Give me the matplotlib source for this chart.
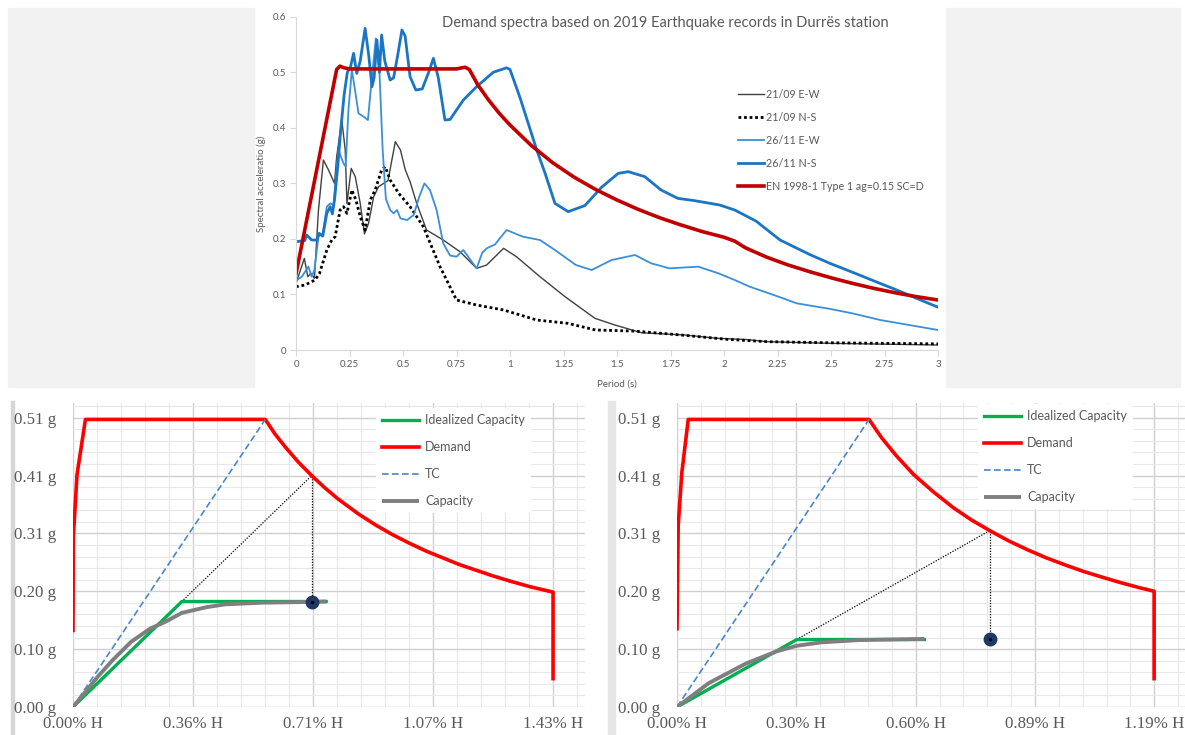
import matplotlib
matplotlib.use("Agg")
from matplotlib import pyplot as plt
from matplotlib.patches import Rectangle
from matplotlib.ticker import MultipleLocator, AutoMinorLocator, FuncFormatter

# ---- top chart: response spectra, period (s) vs Sa (g)
ew0921_t = [0, 0.039, 0.055, 0.07, 0.086, 0.105, 0.128, 0.152, 0.18, 0.19, 0.214, 0.23, 0.238, 0.258,
            0.277, 0.30, 0.32, 0.339, 0.363, 0.386, 0.41, 0.43, 0.464, 0.488, 0.511, 0.533, 0.564, 0.61,
            0.688, 0.766, 0.844, 0.891, 0.97, 1.03, 1.14, 1.257, 1.397, 1.49, 1.615, 1.818, 1.97, 2.1,
            2.2, 2.5, 3.0]
ew0921_sa = [0.12, 0.165, 0.132, 0.138, 0.129, 0.252, 0.342, 0.324, 0.30, 0.348, 0.414, 0.36, 0.264, 0.327,
             0.312, 0.264, 0.209, 0.228, 0.276, 0.294, 0.30, 0.305, 0.375, 0.36, 0.324, 0.303, 0.264, 0.216,
             0.198, 0.177, 0.147, 0.153, 0.183, 0.168, 0.132, 0.096, 0.057, 0.045, 0.031, 0.027, 0.021, 0.019,
             0.015, 0.012, 0.009]

ns0921_t = [0, 0.042, 0.089, 0.11, 0.144, 0.167, 0.183, 0.206, 0.222, 0.238, 0.261, 0.28, 0.30, 0.323,
            0.347, 0.37, 0.40, 0.417, 0.44, 0.48, 0.533, 0.595, 0.673, 0.75, 0.844, 0.97, 1.125, 1.27,
            1.4, 1.584, 1.77, 2.02, 2.2, 2.5, 3.0]
ns0921_sa = [0.114, 0.117, 0.126, 0.138, 0.18, 0.198, 0.204, 0.252, 0.258, 0.246, 0.288, 0.27, 0.24, 0.216,
             0.27, 0.288, 0.324, 0.33, 0.306, 0.282, 0.258, 0.222, 0.15, 0.09, 0.081, 0.072, 0.054, 0.048,
             0.036, 0.034, 0.028, 0.019, 0.015, 0.013, 0.011]

ew2611_t = [0, 0.027, 0.058, 0.073, 0.086, 0.105, 0.125, 0.144, 0.16, 0.175, 0.198, 0.222, 0.232, 0.245,
            0.261, 0.275, 0.292, 0.316, 0.336, 0.355, 0.373, 0.39, 0.405, 0.42, 0.44, 0.456, 0.472, 0.488,
            0.519, 0.55, 0.575, 0.60, 0.626, 0.657, 0.688, 0.72, 0.75, 0.782, 0.81, 0.844, 0.87, 0.891,
            0.93, 0.984, 1.06, 1.14, 1.21, 1.308, 1.382, 1.475, 1.584, 1.66, 1.745, 1.88, 1.974, 2.05,
            2.12, 2.262, 2.34, 2.495, 2.6, 2.73, 2.85, 3.0]
ew2611_sa = [0.125, 0.132, 0.15, 0.132, 0.144, 0.204, 0.21, 0.258, 0.264, 0.26, 0.36, 0.336, 0.33, 0.432,
             0.504, 0.47, 0.426, 0.42, 0.414, 0.492, 0.561, 0.50, 0.36, 0.272, 0.252, 0.246, 0.252, 0.237,
             0.234, 0.243, 0.275, 0.30, 0.288, 0.252, 0.192, 0.17, 0.168, 0.18, 0.165, 0.147, 0.175, 0.183,
             0.19, 0.216, 0.204, 0.198, 0.18, 0.153, 0.144, 0.162, 0.171, 0.156, 0.147, 0.15, 0.138, 0.126,
             0.114, 0.095, 0.084, 0.074, 0.066, 0.054, 0.046, 0.036]

ns2611_t = [0, 0.041, 0.05, 0.073, 0.097, 0.108, 0.125, 0.144, 0.16, 0.17, 0.18, 0.195, 0.21, 0.225, 0.24,
            0.255, 0.269, 0.284, 0.30, 0.323, 0.34, 0.355, 0.365, 0.378, 0.39, 0.40, 0.415, 0.44, 0.456,
            0.475, 0.495, 0.51, 0.533, 0.56, 0.59, 0.62, 0.642, 0.665, 0.696, 0.72, 0.782, 0.844, 0.922,
            0.984, 1.0, 1.047, 1.125, 1.164, 1.21, 1.272, 1.35, 1.428, 1.506, 1.553, 1.63, 1.706, 1.784,
            1.86, 1.98, 2.05, 2.15, 2.262, 2.4, 2.495, 2.6, 2.729, 2.807, 2.9, 3.0]
ns2611_sa = [0.195, 0.197, 0.207, 0.198, 0.198, 0.21, 0.205, 0.246, 0.258, 0.245, 0.27, 0.33, 0.40, 0.46, 0.50,
             0.51, 0.534, 0.498, 0.52, 0.579, 0.53, 0.474, 0.49, 0.558, 0.50, 0.567, 0.52, 0.486, 0.49,
             0.53, 0.576, 0.565, 0.492, 0.468, 0.47, 0.50, 0.525, 0.49, 0.414, 0.415, 0.45, 0.474, 0.50,
             0.508, 0.505, 0.454, 0.36, 0.318, 0.264, 0.249, 0.26, 0.293, 0.318, 0.321, 0.312, 0.288, 0.273,
             0.269, 0.261, 0.252, 0.232, 0.198, 0.172, 0.156, 0.14, 0.12, 0.108, 0.093, 0.077]

ec8_t = [0, 0.19, 0.205, 0.225, 0.25, 0.5, 0.75, 0.775, 0.79, 0.81, 0.85, 0.9, 0.95, 1.0, 1.1, 1.2, 1.3,
         1.4, 1.5, 1.6, 1.7, 1.8, 1.9, 2.0, 2.05, 2.1, 2.2, 2.3, 2.4, 2.5, 2.6, 2.7, 2.8, 2.9, 3.0]
ec8_sa = [0.137, 0.505, 0.511, 0.508, 0.506, 0.506, 0.506, 0.508, 0.509, 0.505, 0.477, 0.45, 0.426, 0.405,
          0.368, 0.337, 0.311, 0.289, 0.27, 0.253, 0.238, 0.225, 0.213, 0.203, 0.196, 0.184, 0.167, 0.153,
          0.141, 0.130, 0.120, 0.111, 0.103, 0.096, 0.090]

# ---- bottom left: ADRS, drift (% H) vs Sa (g)
capL_d = [0, 0.073, 0.117, 0.173, 0.229, 0.274, 0.324, 0.397, 0.453, 0.565, 0.676, 0.753]
capL_sa = [0, 0.053, 0.082, 0.115, 0.138, 0.150, 0.166, 0.176, 0.181, 0.184, 0.185, 0.186]
idealL_d = [0, 0.324, 0.753]
idealL_sa = [0, 0.186, 0.186]
demL_d = [0, 0.001, 0.012, 0.037, 0.572, 0.60, 0.632, 0.67, 0.71, 0.75, 0.788, 0.85, 0.90, 0.95, 1.0,
          1.05, 1.1, 1.15, 1.2, 1.25, 1.3, 1.36, 1.428, 1.428]
demL_sa = [0.135, 0.30, 0.41, 0.507, 0.507, 0.482, 0.458, 0.432, 0.408, 0.386, 0.367, 0.34, 0.321, 0.304,
           0.289, 0.275, 0.263, 0.251, 0.241, 0.231, 0.222, 0.212, 0.2025, 0.05]
tcL_d = [0, 0.572]
tcL_sa = [0, 0.507]
perfL = (0.71, 0.186, 0.408)

# ---- bottom right
capR_d = [0, 0.079, 0.173, 0.248, 0.299, 0.36, 0.453, 0.617]
capR_sa = [0, 0.042, 0.077, 0.098, 0.108, 0.114, 0.118, 0.120]
idealR_d = [0, 0.299, 0.617]
idealR_sa = [0, 0.119, 0.119]
demR_d = [0, 0.003, 0.012, 0.028, 0.479, 0.51, 0.547, 0.59, 0.64, 0.69, 0.734, 0.78, 0.827, 0.875, 0.921,
          0.97, 1.014, 1.06, 1.108, 1.15, 1.19, 1.19]
demR_sa = [0.138, 0.32, 0.413, 0.507, 0.507, 0.475, 0.443, 0.41, 0.379, 0.351, 0.33, 0.311, 0.293, 0.277,
           0.263, 0.25, 0.239, 0.229, 0.219, 0.211, 0.204, 0.05]
tcR_d = [0, 0.479]
tcR_sa = [0, 0.507]
perfR = (0.78, 0.12, 0.311)

W, H = 1185, 735
GREY_TXT = '#595959'


def box(l, t, r, b):
    """pixel box (left, top, right, bottom) -> figure fraction rect"""
    return [l / W, 1 - b / H, (r - l) / W, (b - t) / H]


def fig_rect(fig, l, t, r, b, color):
    fig.patches.append(Rectangle((l / W, 1 - b / H), (r - l) / W, (b - t) / H,
                                 transform=fig.transFigure, color=color, zorder=-1))


def adrs_panel(ax, xstep, xmax, cap, ideal, dem, tc, perf):
    ax.set_xlim(0, xmax)
    ax.set_ylim(0, 0.536)
    ax.xaxis.set_major_locator(MultipleLocator(xstep))
    ax.yaxis.set_major_locator(MultipleLocator(0.102))
    ax.xaxis.set_minor_locator(AutoMinorLocator(5))
    ax.yaxis.set_minor_locator(AutoMinorLocator(5))
    ax.grid(which='major', color='#d0d0d0', lw=1.0)
    ax.grid(which='minor', color='#e8e8e8', lw=0.8)
    ax.set_axisbelow(True)
    for s in ax.spines.values():
        s.set_visible(False)
    ax.tick_params(which='both', length=0)
    ax.tick_params(axis='y', pad=12)
    ax.tick_params(axis='x', pad=6.5)
    ax.xaxis.set_major_formatter(FuncFormatter(lambda v, p: f'{v:.2f}% H'))
    ax.yaxis.set_major_formatter(FuncFormatter(lambda v, p: f'{v:.2f} g'))
    for lab in ax.get_xticklabels() + ax.get_yticklabels():
        lab.set_fontfamily('Liberation Serif')
        lab.set_fontsize(12.2)
        lab.set_color(GREY_TXT)

    d, sa_y, sa_d = perf
    ax.plot([0, d], [0, sa_d], color='black', ls=(0, (1, 1.2)), lw=0.9, zorder=2)
    ax.plot([d, d], [sa_d, sa_y], color='black', ls=(0, (1, 1.2)), lw=0.9, zorder=2)
    l_ideal, = ax.plot(*ideal, color='#00b050', lw=2.4, label='Idealized Capacity', zorder=3)
    l_dem, = ax.plot(*dem, color='#ff0000', lw=2.6, label='Demand', zorder=3, solid_joinstyle='round')
    l_tc, = ax.plot(*tc, color='#4a86c8', lw=1.2, ls=(0, (4, 2)), label='TC', zorder=3)
    l_cap, = ax.plot(*cap, color='#7f7f7f', lw=2.8, label='Capacity', zorder=4, solid_capstyle='butt')
    ax.plot([d], [sa_y], 'o', color='#1f3864', ms=9, zorder=5)
    ax.plot([d], [sa_y], 'o', color='black', ms=1.5, zorder=6)
    return [l_ideal, l_dem, l_tc, l_cap]


def adrs_legend(ax, handles, left, top):
    leg = ax.legend(handles=handles, loc='upper left', bbox_to_anchor=(left / W, 1 - top / H),
                    bbox_transform=fig.transFigure, prop={'family': 'Lato', 'size': 9.0},
                    labelcolor=GREY_TXT, handlelength=3.0, handletextpad=0.45, labelspacing=1.2,
                    fancybox=False, framealpha=1, facecolor='white', edgecolor='none', borderpad=0.45)
    leg.set_zorder(10)


fig = plt.figure(figsize=(W / 100, H / 100), dpi=100)
fig.patch.set_facecolor('white')

# screenshot background pieces
fig_rect(fig, 8, 8, 254, 387, '#f2f2f2')
fig_rect(fig, 946, 8, 1180, 387, '#f2f2f2')
fig_rect(fig, 11, 401, 14, 735, '#d6d6d6')
fig_rect(fig, 608, 401, 615, 735, '#e6e6e6')

# top chart
ax = fig.add_axes(box(296, 16.7, 938, 350))
ax.plot(ew0921_t, ew0921_sa, color='#404040', lw=1.0, label='21/09 E-W')
ax.plot(ns0921_t, ns0921_sa, color='black', lw=2.0, ls=(0, (1, 1)), label='21/09 N-S')
ax.plot(ew2611_t, ew2611_sa, color='#3a8fd8', lw=1.3, label='26/11 E-W')
ax.plot(ns2611_t, ns2611_sa, color='#1a75c4', lw=2.0, label='26/11 N-S')
ax.plot(ec8_t, ec8_sa, color='#c00000', lw=2.6, label='EN 1998-1 Type 1 ag=0.15 SC=D')
ax.set_xlim(0, 3)
ax.set_ylim(0, 0.6)
ax.set_xticks([i * 0.25 for i in range(13)])
ax.set_xticklabels(['0', '0.25', '0.5', '0.75', '1', '1.25', '1.5', '1.75', '2', '2.25', '2.5', '2.75', '3'])
ax.set_yticks([i * 0.1 for i in range(7)])
ax.set_yticklabels(['0', '0.1', '0.2', '0.3', '0.4', '0.5', '0.6'])
for side in ['top', 'right']:
    ax.spines[side].set_visible(False)
for side in ['left', 'bottom']:
    ax.spines[side].set_color('#d9d9d9')
ax.tick_params(colors='#d9d9d9', length=4, labelcolor=GREY_TXT, labelsize=7, pad=3)
for lab in ax.get_xticklabels() + ax.get_yticklabels():
    lab.set_fontfamily('Lato')
ax.set_xlabel('Period (s)', fontsize=7, color=GREY_TXT, family='Lato', labelpad=8)
ax.set_ylabel('Spectral acceleratio (g)', fontsize=7, color=GREY_TXT, family='Lato', labelpad=5)
fig.text(665 / W, 1 - 23 / H, 'Demand spectra based on 2019 Earthquake records in Durrës station',
         ha='center', va='center', fontsize=10.5, color=GREY_TXT, family='Lato')
ax.legend(loc='upper left', bbox_to_anchor=(728 / W, 1 - 79 / H), bbox_transform=fig.transFigure,
          frameon=False, prop={'family': 'Lato', 'size': 7.7}, labelcolor=GREY_TXT,
          handlelength=2.5, handletextpad=0.12, labelspacing=1.12)

# bottom left chart
axl = fig.add_axes(box(73, 403, 585, 707))
hl = adrs_panel(axl, 0.3571, 1.523, (capL_d, capL_sa), (idealL_d, idealL_sa),
                (demL_d, demL_sa), (tcL_d, tcL_sa), perfL)
adrs_legend(axl, hl, 370, 402)

# bottom right chart
axr = fig.add_axes(box(677, 403, 1185, 707))
hr = adrs_panel(axr, 0.2976, 1.267, (capR_d, capR_sa), (idealR_d, idealR_sa),
                (demR_d, demR_sa), (tcR_d, tcR_sa), perfR)
adrs_legend(axr, hr, 972, 398)

fig.savefig('out.png', dpi=100)
